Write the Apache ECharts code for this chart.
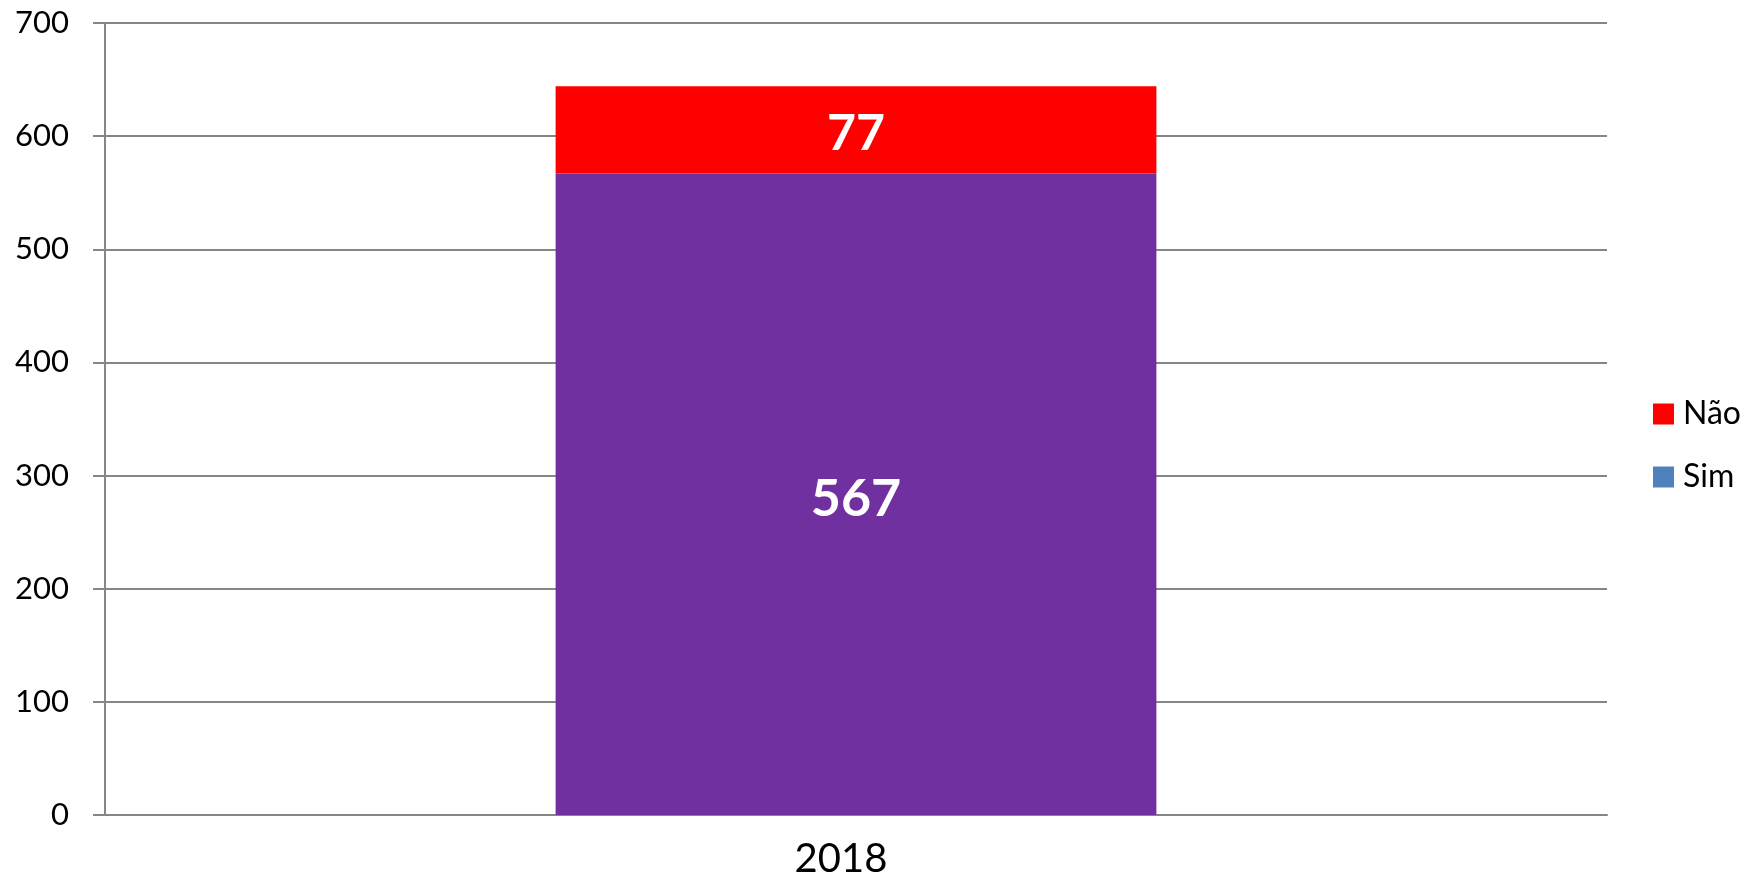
<!DOCTYPE html>
<html>
<head>
<meta charset="utf-8">
<script src="https://cdn.jsdelivr.net/npm/echarts@6/dist/echarts.min.js"></script>
<style>
  html, body { margin: 0; padding: 0; background: #fff; }
  #chart { width: 1750px; height: 888px; }
</style>
</head>
<body>
<div id="chart"></div>
<script>
// dados
const categories = ['2018']
const simValues = [567]
const naoValues = [77]
const yTicks = { min: 0, max: 700, interval: 100 }

const chart = echarts.init(document.getElementById('chart'))

const option = {
  textStyle: { fontFamily: 'Lato' },
  grid: { left: 105, right: 143, top: 23, bottom: 73 },
  legend: {
    orient: 'vertical',
    left: 1648,
    top: 393,
    itemWidth: 21,
    itemHeight: 21,
    itemGap: 31,
    icon: 'rect',
    textStyle: { fontSize: 32, lineHeight: 30, color: '#000', fontFamily: 'Lato', padding: [0, 0, 0, 4] },
    data: [
      { name: 'Não', itemStyle: { color: '#FF0000' } },
      { name: 'Sim', itemStyle: { color: '#4F81BD' } }
    ]
  },
  xAxis: {
    type: 'category',
    data: categories,
    axisLine: { lineStyle: { color: '#868686', width: 2 } },
    axisTick: { length: 12, lineStyle: { color: '#868686', width: 2 } },
    axisLabel: { fontSize: 40, color: '#000', margin: 24, padding: [0, 30, 0, 0] }
  },
  yAxis: {
    type: 'value',
    min: yTicks.min,
    max: yTicks.max,
    interval: yTicks.interval,
    axisLine: { show: true, lineStyle: { color: '#868686', width: 2 } },
    axisTick: { show: true, length: 12, lineStyle: { color: '#868686', width: 2 } },
    splitLine: { lineStyle: { color: '#868686', width: 2 } },
    axisLabel: { fontSize: 31, color: '#000', margin: 36 }
  },
  series: [
    {
      name: 'Sim',
      type: 'bar',
      stack: 'total',
      data: simValues,
      barWidth: '40%',
      itemStyle: { color: '#7030A0' },
      label: { show: true, position: 'inside', offset: [0, 5], color: '#fff', fontSize: 52, fontWeight: 'bold' }
    },
    {
      name: 'Não',
      type: 'bar',
      stack: 'total',
      data: naoValues,
      barWidth: '40%',
      itemStyle: { color: '#FF0000' },
      label: { show: true, position: 'inside', offset: [0, 4], color: '#fff', fontSize: 50, fontWeight: 'bold' }
    }
  ]
}

chart.setOption(option)
</script>
</body>
</html>
